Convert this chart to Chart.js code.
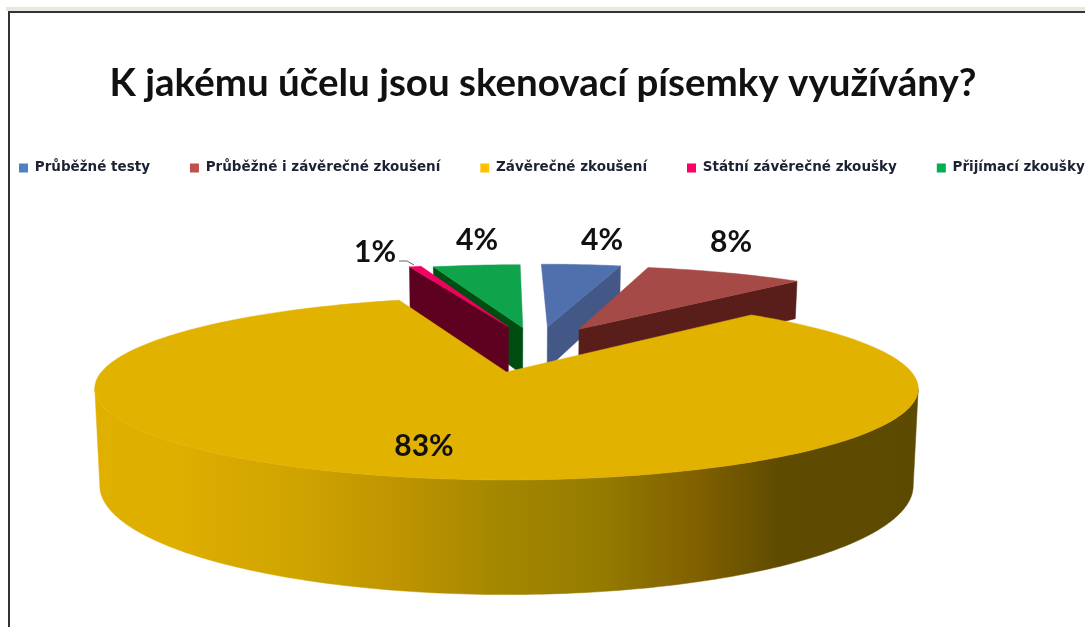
<!DOCTYPE html>
<html lang="cs">
<head>
<meta charset="utf-8">
<title>K jakému účelu jsou skenovací písemky využívány?</title>
<script src="https://cdn.jsdelivr.net/npm/chart.js@4"></script>
<style>
html,body{margin:0;padding:0;background:#fff;width:1085px;height:627px;overflow:hidden}
canvas{display:block;position:absolute;left:0;top:0;filter:blur(.45px)}
</style>
</head>
<body>
<canvas id="c" width="1200" height="627"></canvas>
<script>
const chartTitle = 'K jakému účelu jsou skenovací písemky využívány?';
const categories = ['Průběžné testy','Průběžné i závěrečné zkoušení','Závěrečné zkoušení','Státní závěrečné zkoušky','Přijímací zkoušky'];
const shares = [4, 8, 83, 0.6, 4.4];
const legendColors = ['#4F81BD','#C0504D','#FFC000','#FF0066','#00B050'];
const topColors = ['#4F6FAD','#A54A46','#E2B200','#F00060','#0FA34C'];
const wallColors = ['#445888','#5A1E1A','#E2B200','#5E0020','#004D12'];
const explodeU = [0.118, 0.203, 0.006, 0.012, 0.051];
const explodeV = [-0.56, -0.53, 0, -0.56, -0.55];
const depths = [46, 46, 94, 52, 52];
const wallEdge = ['end','end',null,'start','start'];
const drawOrder = [0, 1, 4, 3, 2];
const labelPos = [[602,240],[731,242],[424,446],[375,252],[477,240]];

const view = {cx:504, cy:372, R:405, a:88.5, c:-0.18};
function proj(u, v, h){
  const w = 1 + view.c * v;
  return [view.cx + view.R * (1 - h * 0.00013) * u / w, view.cy + (view.a * v + h) / w];
}
function pie3d(chart){
  const ctx = chart.ctx;
  const arcs = chart.getDatasetMeta(0).data;
  const trace = (pts)=>{ctx.beginPath();pts.forEach((p,i)=>i?ctx.lineTo(p[0],p[1]):ctx.moveTo(p[0],p[1]));ctx.closePath();};
  const fillPoly = (pts,col)=>{trace(pts);ctx.fillStyle=col;ctx.fill();ctx.strokeStyle=col;ctx.lineWidth=.5;ctx.stroke();};
  drawOrder.forEach(i=>{
    const s = arcs[i].startAngle + Math.PI/2, e = arcs[i].endAngle + Math.PI/2;
    const ou = explodeU[i], ov = explodeV[i], d = depths[i];
    const at = (t,h)=>proj(ou+Math.sin(t), ov-Math.cos(t), h);
    const apex = (h)=>proj(ou, ov, h);
    const n = Math.max(8, Math.ceil((e-s)*60));
    const rim = (h)=>{const r=[];for(let k=0;k<=n;k++)r.push(at(s+(e-s)*k/n,h));return r;};
    if(wallEdge[i]){
      const t = wallEdge[i]==='end'?e:s;
      fillPoly([at(t,0),apex(0),apex(d),at(t,d)], wallColors[i]);
    } else {
      const g = ctx.createLinearGradient(95,0,920,0);
      [[0,'#E0B000'],[.09,'#DFAF00'],[.25,'#CFA300'],[.37,'#BE9400'],[.48,'#A68800'],[.61,'#957C00'],[.73,'#806000'],[.83,'#5F4B00'],[1,'#5C4A00']]
        .forEach(st=>g.addColorStop(st[0],st[1]));
      const top = rim(0), bot = rim(d);
      let kR=0,kL=0;
      top.forEach((p,k)=>{if(p[0]>top[kR][0])kR=k;if(p[0]<top[kL][0])kL=k;});
      fillPoly(top.slice(kR,kL+1).concat(bot.slice(kR,kL+1).reverse()), g);
    }
    fillPoly([apex(0)].concat(rim(0)), topColors[i]);
  });
  ctx.save();
  ctx.fillStyle='#111';
  ctx.textAlign='center';ctx.textBaseline='middle';
  ctx.font='700 30px Lato';
  shares.forEach((v,i)=>ctx.fillText(Math.round(v)+'%',labelPos[i][0],labelPos[i][1]));
  ctx.strokeStyle='#666';ctx.lineWidth=1;
  ctx.beginPath();ctx.moveTo(399,261);ctx.lineTo(407,261);ctx.lineTo(414,265);ctx.stroke();
  ctx.restore();
}
const scene = {
  id:'scene',
  afterLayout(chart){
    chart.titleBlock.left=0;chart.titleBlock.right=1086;
    chart.legend.left=-21;
  },
  beforeDraw(chart){
    const ctx=chart.ctx;
    ctx.save();
    ctx.fillStyle='#fff';ctx.fillRect(0,0,chart.width,chart.height);
    ctx.fillStyle='#E9E7DE';ctx.fillRect(6,7,chart.width,4);
    ctx.fillStyle='#333';ctx.fillRect(8,11,chart.width,2);ctx.fillRect(8,11,2,chart.height);
    ctx.restore();
  },
  beforeDatasetDraw(chart){pie3d(chart);return false;}
};
new Chart(document.getElementById('c'),{
  type:'pie',
  data:{labels:categories,datasets:[{data:shares,backgroundColor:legendColors,borderWidth:0}]},
  plugins:[scene],
  options:{
    responsive:false,animation:false,events:[],rotation:0,
    layout:{padding:0},
    plugins:{
      tooltip:{enabled:false},
      title:{display:true,text:chartTitle,color:'#111',font:{family:'Lato',size:38.5,weight:'700'},padding:{top:60,bottom:15}},
      legend:{position:'top',align:'start',labels:{boxWidth:9,boxHeight:9,padding:40,color:'#1b2233',font:{family:'"DejaVu Sans"',size:13.5,weight:'bold'}}}
    }
  }
});
</script>
</body>
</html>
